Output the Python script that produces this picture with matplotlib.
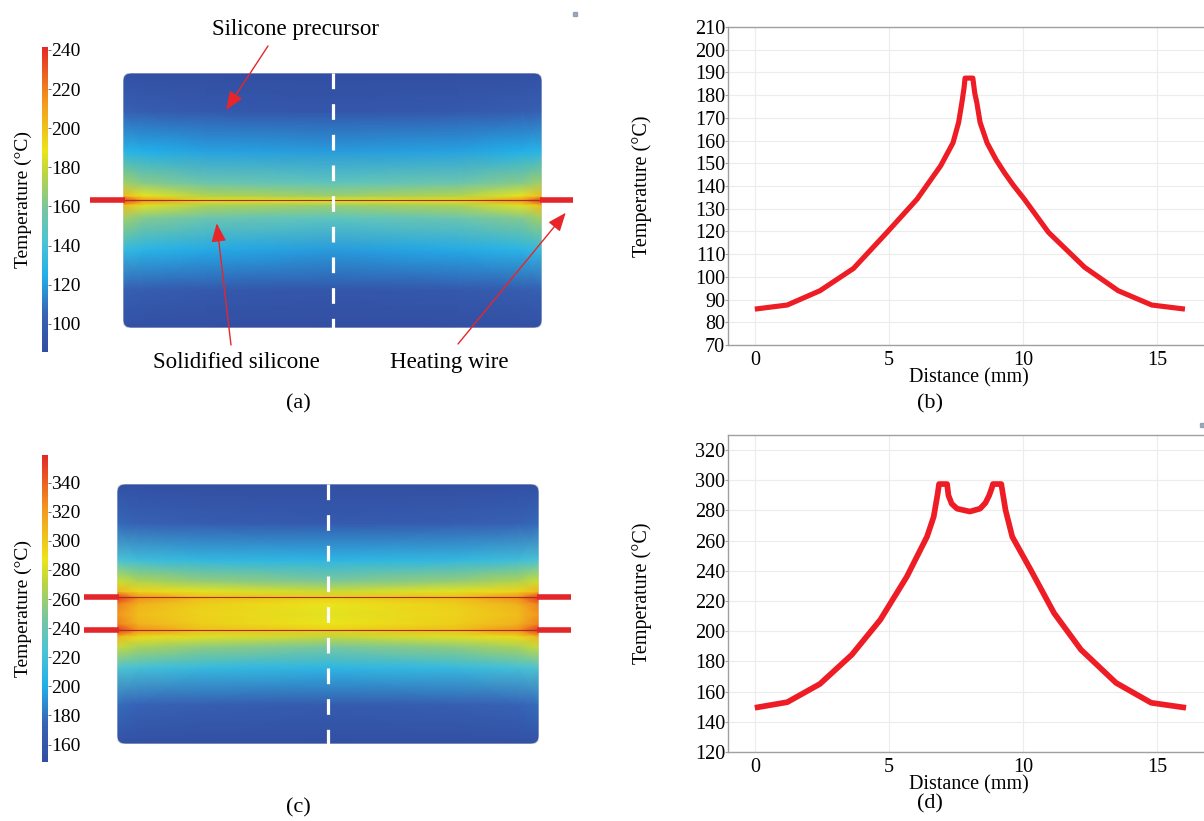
import numpy as np
import matplotlib
matplotlib.use('Agg')
import matplotlib.pyplot as plt
from matplotlib.colors import LinearSegmentedColormap
from matplotlib.patches import FancyBboxPatch, Rectangle

plt.rcParams['font.family'] = ['Liberation Serif', 'DejaVu Serif']

# temperature along the dashed line, one wire (b)
dist_b = [0, 1.21, 2.43, 3.68, 4.93, 6.05, 6.93, 7.39, 7.6, 7.72, 7.8, 7.84,
          8.13, 8.2, 8.28, 8.4, 8.66, 9.0, 9.3, 9.63, 10.05, 10.95, 12.3,
          13.55, 14.8, 16.04]
temp_b = [85.8, 87.6, 93.9, 103.7, 119.6, 134.2, 148.9, 159, 168, 176.6, 183,
          187.5, 187.5, 181, 176.6, 168, 159, 151.5, 146, 140.5, 134.2, 119.6,
          104.2, 93.9, 87.6, 85.8]

# temperature along the dashed line, two wires (d)
dist_d = [0, 1.21, 2.43, 3.62, 4.68, 5.67, 6.42, 6.67, 6.82, 6.87, 7.17, 7.22,
          7.34, 7.54, 8.02, 8.4, 8.6, 8.74, 8.84, 8.88, 9.19, 9.35, 9.6, 10.29,
          11.16, 12.16, 13.47, 14.78, 16.08]
temp_d = [149.3, 153, 165.1, 184.5, 207.6, 236.2, 262.6, 275.8, 291.2, 297.5,
          297.5, 290, 284.5, 281.2, 279.3, 281.2, 285, 290, 295, 297.5, 297.5,
          280.2, 262.6, 240.6, 212, 187.8, 165.8, 152.6, 149.3]

# temperature field (a): rows at heights (mm), columns edge -> centre
field_a_y = [0, 2.4, 4.9, 6.9, 7.7, 8.0, 8.3, 9.1, 11.1, 13.6, 16]
field_a_xfrac = [0, 0.05, 0.2, 0.5, 0.8, 0.95, 1.0]
field_a_edge = [88.5, 103, 133, 170, 202, 238, 202, 170, 128, 103, 88.5]
field_a_near = [87.5, 100, 128, 162, 186, 215, 187, 163, 125, 100, 87.5]
field_a_mid = [86.5, 96, 123, 154, 173, 193, 174, 155, 121, 96, 86.5]
field_a_centre = [85.8, 93.9, 119.6, 148.9, 168, 187.7, 169, 150, 119.6, 93.9, 85.8]

# temperature field (c)
field_c_y = [0, 2.4, 4.7, 6.0, 6.6, 7.0, 7.4, 8.0, 8.6, 9.0, 9.4, 10.0, 11.3, 13.6, 16]
field_c_xfrac = [0, 0.05, 0.2, 0.5, 0.8, 0.95, 1.0]
field_c_edge = [152, 177, 226, 276, 308, 355, 330, 322, 330, 355, 308, 278, 224, 176, 152]
field_c_near = [151, 173, 220, 266, 292, 325, 310, 305, 310, 325, 294, 268, 218, 172, 151]
field_c_mid = [150, 168, 213, 256, 282, 305, 298, 295, 298, 305, 284, 258, 211, 167, 150]
field_c_centre = [149.3, 165, 208, 248, 273, 297.5, 287, 284, 287, 297.5, 276, 250, 208, 164, 149.3]

cmap = LinearSegmentedColormap.from_list('rainbow_light', [
    (0.0, '#324ea2'), (0.12, '#3762b5'), (0.25, '#22b0ea'), (0.36, '#4cc3d4'),
    (0.47, '#78c6a0'), (0.58, '#b8d445'), (0.66, '#ebe51a'), (0.82, '#f39a1e'),
    (1.0, '#e32a26')])

W, H = 1204, 821
fig = plt.figure(figsize=(W / 100, H / 100), dpi=100)


def px_axes(x0, y0, x1, y1):
    return fig.add_axes([x0 / W, 1 - y1 / H, (x1 - x0) / W, (y1 - y0) / H])


def heat_panel(rect, cbar_rect, xfrac, ys, cols, vmin, vmax, ticks, wires, width):
    ax = px_axes(*rect)
    ax.set_xlim(0, width)
    ax.set_ylim(0, 16)
    ax.axis('off')
    C = np.array(cols).T
    X, Y = np.meshgrid(np.array(xfrac) * width, ys)
    mesh = ax.pcolormesh(X, Y, C, shading='gouraud', cmap=cmap, vmin=vmin, vmax=vmax)
    box = FancyBboxPatch((0, 0), width, 16, boxstyle='round,pad=0,rounding_size=0.5',
                         fc='none', ec='#d8d8d8', lw=0.6)
    ax.add_patch(box)
    mesh.set_clip_path(box)
    for wy in wires:
        ax.plot([0, width], [wy, wy], color='#a8301c', lw=0.8, zorder=3)
        ax.plot([-2.05, 0.1], [wy, wy], color='#e3262a', lw=4.0, clip_on=False,
                solid_capstyle='butt', zorder=4)
        ax.plot([width - 0.1, width + 1.95], [wy, wy], color='#e3262a', lw=4.0,
                clip_on=False, solid_capstyle='butt', zorder=4)
    ax.plot([width / 2, width / 2], [16, 0], color='white', lw=2.3,
            linestyle=(0, (4.9, 4.7)), zorder=5)
    cax = px_axes(*cbar_rect)
    cb = fig.colorbar(mesh, cax=cax, ticks=ticks)
    cb.outline.set_visible(False)
    cax.tick_params(labelsize=14, length=2, width=0.6, pad=0.5, color='#555555')
    cax.yaxis.set_label_position('left')
    cax.set_ylabel('Temperature (°C)', fontsize=14, labelpad=7)
    return ax


def cols_from(edge, near, mid, centre):
    return [edge, near, mid, centre, mid, near, edge]


ax_a = heat_panel((123, 73, 542, 328), (42, 47, 48, 352), field_a_xfrac, field_a_y,
                  cols_from(field_a_edge, field_a_near, field_a_mid, field_a_centre),
                  85.6, 241.5, range(100, 241, 20), [8.02], 26.3)
ax_c = heat_panel((117, 484, 539, 744), (42, 455, 48, 762), field_c_xfrac, field_c_y,
                  cols_from(field_c_edge, field_c_near, field_c_mid, field_c_centre),
                  148, 359, range(160, 341, 20), [7.0, 9.05], 26.0)

# annotations on (a)
arrow = dict(arrowstyle='-|>,head_length=0.75,head_width=0.3', color='#e8262a',
             lw=1.0, shrinkA=0, shrinkB=0, mutation_scale=15)
fig.text(295 / W, 1 - 29 / H, 'Silicone precursor', fontsize=16.5, ha='center', va='center')
fig.text(236 / W, 1 - 362 / H, 'Solidified silicone', fontsize=16.5, ha='center', va='center')
fig.text(449 / W, 1 - 362 / H, 'Heating wire', fontsize=16.5, ha='center', va='center')
ax_a.annotate('', xy=(6.47, 13.68), xytext=(268 / W, 1 - 46 / H),
              textcoords='figure fraction', arrowprops=arrow, annotation_clip=False)
ax_a.annotate('', xy=(5.88, 6.57), xytext=(231 / W, 1 - 345 / H),
              textcoords='figure fraction', arrowprops=arrow, annotation_clip=False)
ax_a.annotate('', xy=(27.79, 7.23), xytext=(458 / W, 1 - 344 / H),
              textcoords='figure fraction', arrowprops=arrow, annotation_clip=False)


def line_panel(rect, x, y, ylim, yticks, lw):
    ax = px_axes(*rect)
    ax.plot(x, y, color='#ee1c24', lw=lw, solid_joinstyle='round',
            solid_capstyle='butt', zorder=3)
    ax.set_xlim(-1.0, 16.75)
    ax.set_ylim(*ylim)
    ax.set_xticks([0, 5, 10, 15])
    ax.set_yticks(yticks)
    ax.grid(True, color='#ececec', lw=0.8)
    for s in ['left', 'bottom', 'top']:
        ax.spines[s].set_color('#a0a0a0')
        ax.spines[s].set_linewidth(1.0)
    ax.spines['right'].set_visible(False)
    ax.tick_params(axis='y', labelsize=14.5, length=2, width=0.8, color='#a0a0a0', pad=0)
    ax.tick_params(axis='x', labelsize=14.5, length=0, pad=4)
    ax.set_ylabel('Temperature (°C)', fontsize=14.5)
    ax.yaxis.set_label_coords(-0.16, 0.5)
    ax.set_xlabel('Distance (mm)', fontsize=14.5)
    ax.xaxis.set_label_coords(0.506, -0.072)
    return ax


line_panel((728, 27, 1204, 345), dist_b, temp_b, (70, 210), range(70, 211, 10), 3.7)
line_panel((728, 435, 1204, 752), dist_d, temp_d, (120, 330), range(120, 321, 20), 4.1)

for lab, px, py in [('(a)', 298, 404), ('(b)', 930, 404), ('(c)', 298, 808), ('(d)', 930, 804)]:
    fig.text(px / W, 1 - py / H, lab, fontsize=16, ha='center', va='center')

# small marks from the original export
for px, py in [(573, 12), (1200, 423)]:
    fig.patches.append(Rectangle((px / W, 1 - (py + 4) / H), 4 / W, 4 / H,
                                 transform=fig.transFigure, color='#7a8aa0', alpha=0.7))

fig.savefig('out.png', dpi=100)
